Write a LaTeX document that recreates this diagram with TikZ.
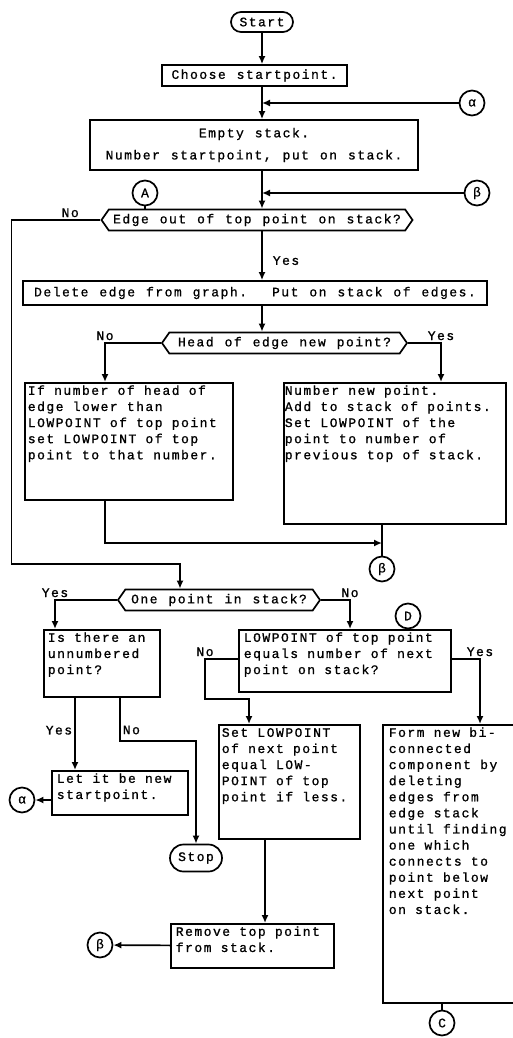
\documentclass[tikz,border=0pt]{standalone}
\usepackage{fontspec}
\newfontfamily\typewriter{Liberation Mono}[LetterSpace=11.5,WordSpace=1.18,FakeBold=1]
\usetikzlibrary{shapes.symbols,shapes.misc,arrows.meta}

\begin{document}
\begin{tikzpicture}[x=1pt, y=-1pt, line width=1.7pt, >={Latex[length=8pt,width=7pt]},
     every node/.style={font=\typewriter\fontsize{13pt}{16.1pt}\selectfont},
     terminal/.style={draw, rounded rectangle, inner sep=0pt, minimum height=20pt},
     procbox/.style={draw, rectangle, align=center, inner sep=0pt},
     listbox/.style={draw, rectangle, anchor=north west, align=left, inner ysep=3pt, text height=9pt,
        execute at begin node={\spaceskip=9.2pt\xspaceskip=9.2pt\relax}},
     decision/.style={draw, signal, signal to=west and east, signal pointer angle=110, inner sep=0pt, minimum height=21pt},
     connector/.style={draw, circle, inner sep=0pt, minimum size=25pt},
     lbl/.style={inner sep=2pt}]

   \useasboundingbox (0,0) rectangle (513,1038);
   \clip (0,0) rectangle (513,1038);

   \node[terminal, minimum width=62pt] (start) at (262,22) {Start};
   \node[procbox, minimum width=185pt, minimum height=21pt] (choose) at (254.5,75.5) {Choose startpoint.};
   \node[connector] (alpha1) at (472,103) {α};
   \node[procbox, minimum width=328pt, minimum height=50pt] (empty) at (254,145) {Empty stack.\\[6pt]Number startpoint, put on stack.};
   \node[connector] (beta1) at (477,193) {β};
   \node[connector] (A) at (145,193) {A};
   \node[decision, minimum width=311pt] (hex1) at (257,220) {Edge out of top point on stack?};
   \node[procbox, minimum width=464pt, minimum height=24pt] (delete) at (255,293) {Delete edge from graph.~ Put on stack of edges.};
   \node[decision, minimum width=245pt] (hex2) at (284.5,343) {Head of edge new point?};
   \node[listbox, inner xsep=3pt, text width=202pt, text depth=102pt] (leftbox) at (24,382) {If number of head of\\edge lower than\\LOWPOINT of top point\\set LOWPOINT of top\\point to that number.};
   \node[listbox, inner xsep=1pt, text width=220pt, text depth=126pt] (rightbox) at (283,382) {Number new point.\\Add to stack of points.\\Set LOWPOINT of the\\point to number of\\previous top of stack.};
   \node[connector] (beta2) at (382,569) {β};
   \node[decision, minimum width=202pt] (hex3) at (219,600) {One point in stack?};
   \node[listbox, inner xsep=4pt, text width=108pt, text depth=52pt] (isbox) at (43,629) {Is there an\\unnumbered\\point?};
   \node[listbox, inner xsep=5pt, text width=202pt, text depth=47pt] (lowbox) at (238,629) {LOWPOINT of top point\\equals number of next\\point on stack?};
   \node[connector] (D) at (408,616) {D};
   \node[listbox, inner xsep=3pt, text width=135pt, text depth=99pt] (setbox) at (218,724) {Set LOWPOINT\\of next point\\equal LOW-\\POINT of top\\point if less.};
   \node[listbox, inner xsep=6pt, text width=140pt, text depth=263pt] (formbox) at (382,724) {Form new bi-\\connected\\component by\\deleting\\edges from\\edge stack\\until finding\\one which\\connects to\\point below\\next point\\on stack.};
   \node[listbox, inner xsep=5pt, text width=126pt, text depth=29pt] (letbox) at (51,770) {Let it be new\\startpoint.};
   \node[connector] (alpha2) at (22,800) {α};
   \node[terminal, minimum width=52pt, minimum height=27pt] (stop) at (196,858) {Stop};
   \node[listbox, inner xsep=5pt, text width=153pt, text depth=29pt] (removebox) at (170,923) {Remove top point\\from stack.};
   \node[connector] (beta3) at (100,945) {β};
   \node[connector] (C) at (442,1023) {C};

   \coordinate (yesdrop) at ([xshift=32pt]isbox.south west);
   \coordinate (setdrop) at ([xshift=47pt]setbox.south west);

   \draw[->] (start) -- (start |- choose.north);
   \draw[->] (start |- choose.south) -- (start |- empty.north);
   \draw[->] (alpha1) -- (alpha1 -| start);
   \draw[->] (start |- empty.south) -- (start |- hex1.north);
   \draw[->] (beta1) -- (beta1 -| start);
   \draw (A) -- (A |- hex1.north);
   \draw[->] (start |- hex1.south) -- node[lbl, right=8pt, pos=0.6] (yes1) {Yes} (start |- delete.north);
   \draw[->] (hex1.west) -- node[lbl, above, pos=0.34] (no1) {No} ++(-89,0) |- ([xshift=-39pt, yshift=25pt]hex3.north) -- ([xshift=-39pt]hex3.north);
   \draw[->] (start |- delete.south) -- (start |- hex2.north);
   \draw[->] (hex2.west) -| node[lbl, above, pos=0.5] (no2) {No} ([xshift=81pt]leftbox.north west);
   \draw[->] (hex2.east) -| node[lbl, above, pos=0.5] (yes2) {Yes} ([xshift=158pt]rightbox.north west);
   \draw[->] ([xshift=81pt]leftbox.south west) |- ([yshift=26pt]beta2.center);
   \draw (beta2) -- (beta2 |- rightbox.south);
   \draw[->] (hex3.west) -| node[lbl, above, pos=0.5] (yes3) {Yes} ([xshift=12pt]isbox.north west);
   \draw[->] (hex3.east) -| node[lbl, above, pos=0.5] (no3) {No} ([xshift=112pt]lowbox.north west);
   \draw[->] ([yshift=-30pt]lowbox.north west) -- node[lbl, above, pos=1] (no4) {No} ++(-33,0) |- ([xshift=31pt, yshift=25pt]setbox.north west) -- ([xshift=31pt]setbox.north west);
   \draw[->] ([yshift=-30pt]lowbox.north east) -| node[lbl, above, pos=0.5] (yes4) {Yes} ([xshift=98pt]formbox.north west);
   \draw[->] (yesdrop) -- node[lbl, left, pos=0.45] (yes5) {Yes} (yesdrop |- letbox.north);
   \draw[->] ([xshift=77pt]isbox.south west) -- node[lbl, right, pos=0.75] (no5) {No} ++(0,43) -| (stop.north);
   \draw[->] (letbox.west |- alpha2) -- (alpha2);
   \draw[->] (setdrop) -- (setdrop |- removebox.north);
   \draw[->] (removebox) -- (beta3);
   \draw (C) -- (C |- formbox.south);
\end{tikzpicture}
\end{document}
